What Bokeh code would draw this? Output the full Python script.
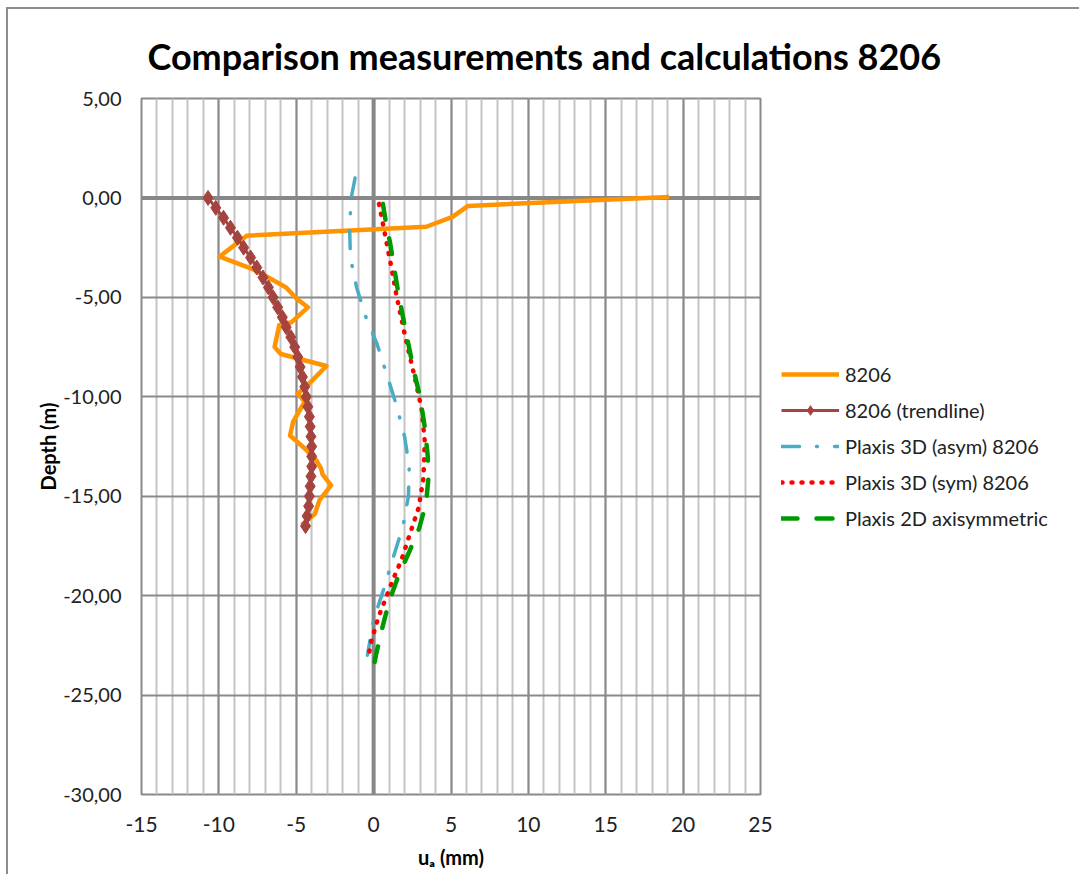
from bokeh.plotting import figure
from bokeh.models import (Span, Legend, LegendItem, SingleIntervalTicker, Range1d,
                          CustomJSTickFormatter)
from bokeh.embed import file_html
from bokeh.resources import INLINE

# ---------------- data ----------------
title_text = "Comparison measurements and calculations 8206"

meas_x = [19.1, 6.1, 5.1, 3.4, -8.2, -9.95, -7.9, -6.8, -5.65, -5.0, -4.25, -5.3, -6.1,
          -6.4, -6.0, -3.05, -4.25, -4.9, -4.45, -5.2, -5.4, -4.45, -3.7, -3.4, -3.3,
          -2.75, -3.5, -3.8, -4.65]
meas_d = [0.05, -0.4, -0.95, -1.45, -1.9, -2.95, -3.55, -4.0, -4.5, -5.05, -5.5, -6.25, -6.4,
          -7.5, -7.85, -8.45, -9.4, -9.85, -10.25, -11.25, -11.95, -12.6, -13.2, -13.6, -13.9,
          -14.45, -15.2, -15.9, -16.45]

trend_d = [0.0, -0.5, -1.0, -1.5, -2.0, -2.5, -3.0, -3.5, -4.0, -4.5, -5.0, -5.5, -6.0,
           -6.5, -7.0, -7.5, -8.0, -8.5, -9.0, -9.5, -10.0, -10.5, -11.0, -11.5, -12.0,
           -12.5, -13.0, -13.5, -14.0, -14.5, -15.0, -15.5, -16.0, -16.5]
trend_x = [-10.7, -10.2, -9.7, -9.25, -8.8, -8.4, -7.95, -7.55, -7.15, -6.8, -6.5, -6.2, -5.9,
           -5.65, -5.35, -5.1, -4.9, -4.75, -4.6, -4.45, -4.35, -4.25, -4.15, -4.1, -4.05,
           -4.0, -4.0, -4.0, -4.05, -4.1, -4.15, -4.2, -4.3, -4.4]

asym_x = [-1.2, -1.45, -1.55, -1.5, -1.1, -0.5, 0.2, 0.9, 1.5, 2.0, 2.3, 2.25, 1.9, 1.3,
          0.6, 0.0, -0.4]
asym_d = [1.0, 0.0, -1.5, -3.0, -4.5, -6.0, -7.3, -9.0, -10.5, -12.0, -13.5, -15.0, -16.5,
          -18.0, -19.8, -21.2, -23.0]

sym_x = [0.35, 0.65, 1.15, 1.5, 2.05, 2.65, 3.1, 3.3, 3.25, 3.2, 2.9, 2.3, 1.8, 1.25, 0.7,
         0.3, -0.15, -0.35]
sym_d = [-0.3, -1.5, -3.5, -5.0, -7.0, -9.0, -10.6, -12.2, -13.5, -14.2, -15.6, -17.0, -18.2,
         -19.2, -20.3, -21.1, -22.3, -23.1]

ax2d_x = [0.6, 0.85, 1.05, 1.6, 2.05, 2.6, 3.0, 3.3, 3.5, 3.55, 3.4, 2.95, 2.3, 1.6, 1.0,
          0.5, 0.15, -0.1]
ax2d_d = [-0.3, -1.5, -2.2, -4.8, -6.6, -8.7, -10.0, -11.5, -13.0, -14.0, -15.3, -16.6, -17.8,
          -19.0, -20.3, -21.8, -23.0, -24.0]

series_names = ["8206", "8206 (trendline)", "Plaxis 3D (asym) 8206",
                "Plaxis 3D (sym) 8206", "Plaxis 2D axisymmetric"]

FONT = "Lato"
GRID_DARK = "#8a8a8a"
GRID_LIGHT = "#c4c4c4"

p = figure(frame_width=619, frame_height=696, output_backend="svg", toolbar_location=None,
           x_range=Range1d(-15, 25), y_range=Range1d(-30, 5),
           min_border_left=133, min_border_right=300, min_border_top=89,
           min_border_bottom=80, background_fill_color="white", border_fill_color="white")
p.margin = (7, 0, 0, 6)
p.styles = {"border-left": "2px solid #8c8c8c", "border-top": "2px solid #8c8c8c"}

p.title.text = title_text
p.title.text_font = FONT
p.title.text_font_size = "36px"
p.title.text_font_style = "bold"
p.title.text_color = "black"
p.title.align = "left"
p.title.offset = 6
p.title.standoff = 41

p.outline_line_color = GRID_DARK
p.outline_line_width = 2

p.xaxis.ticker = SingleIntervalTicker(interval=5, num_minor_ticks=5)
p.yaxis.ticker = SingleIntervalTicker(interval=5, num_minor_ticks=0)
p.yaxis.formatter = CustomJSTickFormatter(code="return tick.toFixed(2).replace('.', ',');")
p.xaxis.formatter = CustomJSTickFormatter(code="return tick.toFixed(0);")

for ax in (p.xaxis[0], p.yaxis[0]):
    ax.axis_line_color = None
    ax.major_tick_line_color = None
    ax.minor_tick_line_color = None
    ax.major_label_text_font = FONT
    ax.major_label_text_color = "#222222"
    ax.axis_label_text_font = FONT
    ax.axis_label_text_font_style = "bold"
    ax.axis_label_text_color = "black"

p.xaxis.major_label_text_font_size = "21px"
p.yaxis.major_label_text_font_size = "20px"
p.xaxis.axis_label_text_font_size = "20px"
p.yaxis.axis_label_text_font_size = "20px"
p.xaxis.major_label_standoff = 16
p.yaxis.major_label_standoff = 14
p.xaxis.axis_label = "u\u2090 (mm)"
p.yaxis.axis_label = "Depth (m)"
p.xaxis.axis_label_standoff = 10
p.yaxis.axis_label_standoff = 0

p.grid.grid_line_color = GRID_DARK
p.grid.grid_line_width = 2
p.xgrid.minor_grid_line_color = GRID_LIGHT
p.xgrid.minor_grid_line_width = 2

p.add_layout(Span(location=0, dimension="height", line_color="#878787", line_width=4,
                  level="underlay"))
p.add_layout(Span(location=0, dimension="width", line_color="#878787", line_width=4,
                  level="underlay"))

r_meas = p.line(meas_x, meas_d, line_color="#FF9400", line_width=4.5, line_join="round")
r_tr_l = p.line(trend_x, trend_d, line_color="#A5443F", line_width=3)
r_tr_m = p.scatter(trend_x, trend_d, marker="diamond", size=15, fill_color="#A5443F",
                   line_color="#A5443F")
r_asym = p.line(asym_x, asym_d, line_color="#4BACC6", line_width=3.5,
                line_dash="18 17 1 17", line_cap="round")
r_sym = p.line(sym_x, sym_d, line_color="#FF0000", line_width=4.5, line_dash="1 9",
               line_cap="round")
r_2d = p.line(ax2d_x, ax2d_d, line_color="#009A00", line_width=4.5, line_dash="16 19",
              line_cap="round")

legend = Legend(items=[
    LegendItem(label=series_names[0], renderers=[r_meas]),
    LegendItem(label=series_names[1], renderers=[r_tr_l, r_tr_m]),
    LegendItem(label=series_names[2], renderers=[r_asym]),
    LegendItem(label=series_names[3], renderers=[r_sym]),
    LegendItem(label=series_names[4], renderers=[r_2d]),
], location="center_left")
legend.border_line_color = None
legend.background_fill_alpha = 0
legend.label_text_font = FONT
legend.label_text_font_size = "20px"
legend.label_text_color = "#222222"
legend.glyph_width = 58
legend.glyph_height = 24
legend.label_height = 24
legend.spacing = 12
legend.label_standoff = 6
legend.padding = 0
legend.margin = 21
p.add_layout(legend, "right")

open("out.html", "w").write(file_html(p, INLINE))
